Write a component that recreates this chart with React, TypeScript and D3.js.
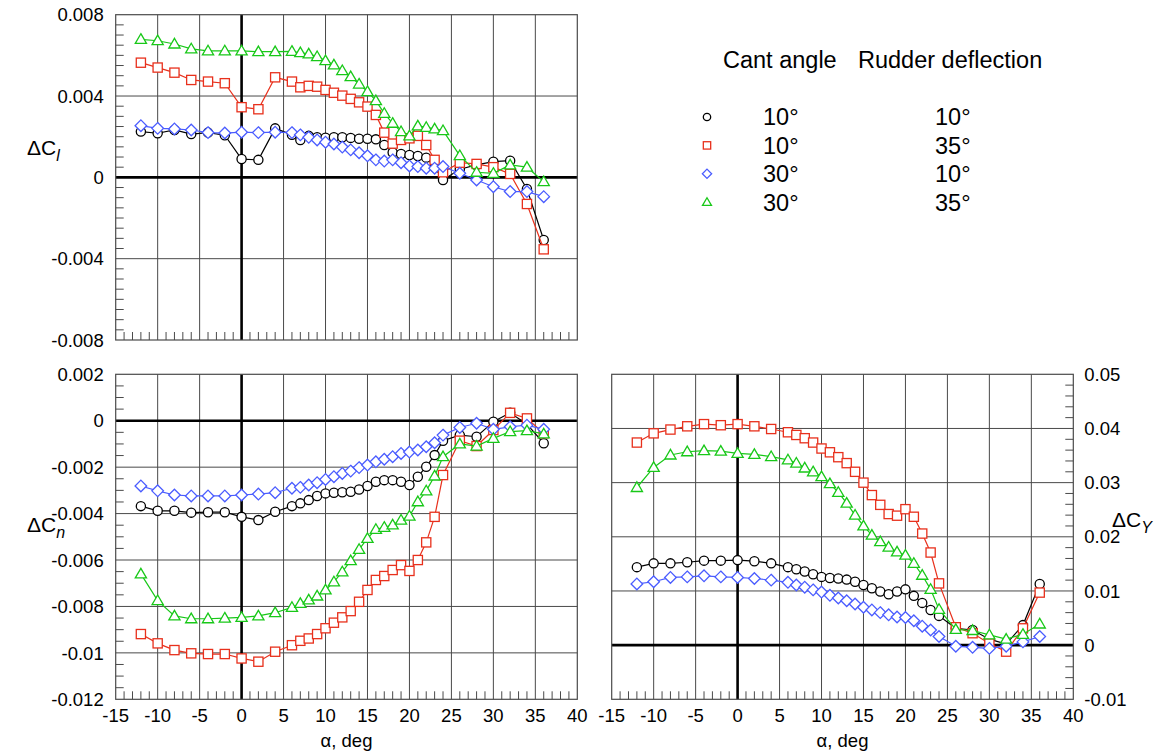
import React from 'react';
import * as d3 from 'd3';

// angle of attack, deg
const alpha = [-12, -10, -8, -6, -4, -2, 0, 2, 4, 6, 7, 8, 9, 10, 11, 12, 13, 14, 15, 16, 17, 18, 19, 20, 21, 22, 23, 24, 26, 28, 30, 32, 34, 36];

// ΔCl (x 1000)
const clC10R10 = [2.25, 2.17, 2.33, 2.13, 2.2, 2.07, 0.9, 0.86, 2.41, 2.09, 1.84, 2.04, 1.97, 1.95, 1.97, 1.97, 1.94, 1.9, 1.9, 1.87, 1.59, 1.22, 1.15, 1.1, 1.05, 0.97, 0.5, -0.13, 0.4, 0.61, 0.77, 0.82, -0.57, -3.08];
const clC10R35 = [5.64, 5.4, 5.15, 4.79, 4.71, 4.63, 3.45, 3.35, 4.92, 4.71, 4.43, 4.5, 4.46, 4.3, 4.16, 4.02, 3.86, 3.69, 3.48, 3.07, 2.2, 1.66, 1.84, 1.92, 2.04, 1.59, 0.86, 0.25, 0.72, 0.66, 0.5, 0.17, -1.31, -3.54];
const clC30R10 = [2.54, 2.41, 2.38, 2.33, 2.2, 2.18, 2.22, 2.2, 2.22, 2.2, 2.09, 1.97, 1.84, 1.73, 1.64, 1.49, 1.35, 1.21, 1.06, 0.86, 0.8, 0.86, 0.72, 0.56, 0.53, 0.45, 0.45, 0.53, 0.2, -0.13, -0.46, -0.7, -0.7, -0.95];
const clC30R35 = [6.79, 6.72, 6.56, 6.32, 6.22, 6.22, 6.22, 6.18, 6.18, 6.2, 6.13, 6.07, 5.94, 5.74, 5.53, 5.25, 4.95, 4.59, 4.22, 3.77, 3.15, 2.66, 2.25, 2.04, 2.53, 2.46, 2.38, 2.3, 1.07, 0.25, 0.2, 0.61, 0.5, -0.21];

// ΔCn (x 1000)
const cnC10R10 = [-3.68, -3.88, -3.88, -3.96, -3.94, -3.94, -4.14, -4.28, -3.92, -3.68, -3.56, -3.42, -3.24, -3.13, -3.1, -3.08, -3.06, -2.96, -2.81, -2.63, -2.56, -2.56, -2.63, -2.77, -2.41, -1.98, -1.48, -0.86, -0.62, -0.69, -0.04, 0.34, -0.15, -0.97];
const cnC10R35 = [-9.19, -9.59, -9.88, -10.02, -10.05, -10.05, -10.24, -10.38, -9.95, -9.67, -9.48, -9.38, -9.19, -8.94, -8.7, -8.47, -8.2, -7.8, -7.29, -6.86, -6.69, -6.43, -6.22, -6.47, -6.0, -5.24, -4.14, -2.34, -0.86, -1.09, -0.4, 0.34, 0.1, -0.54];
const cnC30R10 = [-2.81, -3.02, -3.2, -3.24, -3.24, -3.24, -3.2, -3.16, -3.1, -2.91, -2.87, -2.77, -2.67, -2.53, -2.41, -2.27, -2.17, -2.02, -1.91, -1.77, -1.66, -1.55, -1.41, -1.35, -1.26, -1.12, -0.95, -0.62, -0.29, -0.11, -0.37, -0.26, -0.19, -0.37];
const cnC30R35 = [-6.6, -7.75, -8.41, -8.53, -8.53, -8.5, -8.47, -8.41, -8.27, -8.04, -7.87, -7.72, -7.55, -7.29, -6.94, -6.51, -6.03, -5.54, -5.07, -4.68, -4.59, -4.49, -4.28, -4.11, -3.49, -3.02, -2.38, -1.55, -1.0, -1.09, -0.76, -0.47, -0.43, -0.57];

// ΔCY (x 1000)
const cyC10R10 = [14.4, 15.1, 15.1, 15.3, 15.6, 15.6, 15.7, 15.5, 15.1, 14.4, 14.0, 13.6, 13.1, 12.6, 12.4, 12.3, 12.1, 11.7, 11.1, 10.5, 9.9, 9.4, 9.9, 10.3, 9.1, 7.8, 6.5, 5.4, 3.1, 2.8, 1.1, 0.2, 3.7, 11.3];
const cyC10R35 = [37.4, 39.1, 39.8, 40.4, 40.8, 40.6, 40.8, 40.4, 39.9, 39.3, 38.8, 38.2, 37.4, 36.3, 35.6, 34.7, 33.6, 32.0, 30.0, 27.7, 25.9, 24.2, 23.9, 25.1, 23.7, 20.6, 17.1, 11.4, 3.3, 2.2, 0.3, -1.2, 3.1, 9.7];
const cyC30R10 = [11.3, 11.7, 12.5, 12.6, 12.8, 12.6, 12.5, 12.3, 12.0, 11.6, 11.1, 10.7, 10.2, 9.8, 9.2, 8.7, 8.2, 7.6, 7.0, 6.5, 6.0, 5.6, 5.2, 5.1, 4.5, 3.5, 2.8, 1.6, -0.2, -0.4, -0.6, -0.2, 0.6, 1.6];
const cyC30R35 = [29.1, 32.8, 35.1, 35.7, 35.9, 35.8, 35.4, 35.2, 34.8, 34.2, 33.6, 32.7, 32.0, 31.1, 29.8, 28.2, 26.2, 24.0, 22.0, 20.3, 19.1, 18.1, 17.2, 16.6, 15.1, 12.9, 10.3, 6.6, 2.9, 2.7, 1.9, 1.1, 2.0, 3.9];

const xTickLabels = ['-15', '-10', '-5', '0', '5', '10', '15', '20', '25', '30', '35', '40'];
const cantAngles = ['10°', '10°', '30°', '30°'];
const rudderDefl = ['10°', '35°', '10°', '35°'];

const seriesStyle = [
  { color: '#000000', shape: 'circle' },
  { color: '#e8301c', shape: 'square' },
  { color: '#4a5cff', shape: 'diamond' },
  { color: '#18c818', shape: 'triangle' },
];

const FONT = "'Liberation Sans', Arial, Helvetica, sans-serif";
const GRID = '#4a4a4a';

function Marker({ shape, x, y, color, s = 1 }: any) {
  const sw = 1.3;
  if (shape === 'circle') return <circle cx={x} cy={y} r={4.6 * s} fill="#fff" stroke={color} strokeWidth={sw} />;
  if (shape === 'square') {
    const h = 4.6 * s;
    return <rect x={x - h} y={y - h} width={2 * h} height={2 * h} fill="#fff" stroke={color} strokeWidth={sw} />;
  }
  if (shape === 'diamond') {
    const h = 5.8 * s;
    return <polygon points={`${x},${y - h} ${x + h},${y} ${x},${y + h} ${x - h},${y}`} fill="#fff" stroke={color} strokeWidth={sw} />;
  }
  const hw = 5.6 * s, up = 5.6 * s, dn = 4.0 * s;
  return <polygon points={`${x},${y - up} ${x + hw},${y + dn} ${x - hw},${y + dn}`} fill="#fff" stroke={color} strokeWidth={sw} />;
}

function fmt(v: number) {
  return String(+(v / 1000).toFixed(4));
}

function Panel({ left, right, top, bottom, yDomain, major, minor, series, side, showXLabels }: any) {
  const x = d3.scaleLinear().domain([-15, 40]).range([left, right]);
  const y = d3.scaleLinear().domain(yDomain).range([bottom, top]);
  const nMaj = Math.round((yDomain[1] - yDomain[0]) / major);
  const majTicks = d3.range(nMaj + 1).map((i) => +(yDomain[0] + i * major).toFixed(6));
  const nMin = Math.round((yDomain[1] - yDomain[0]) / minor);
  const minTicks = d3.range(nMin + 1).map((i) => +(yDomain[0] + i * minor).toFixed(6));
  const xMaj = d3.range(12).map((i) => -15 + i * 5);
  const xMin = d3.range(56).map((i) => -15 + i);
  const tl = 8;
  const line = d3.line<number>().x((_, i) => x(alpha[i])).y((d) => y(d));
  return (
    <g>
      {xMaj.filter((v) => v > -15 && v < 40 && v !== 0).map((v) => (
        <line key={'gx' + v} x1={x(v)} x2={x(v)} y1={top} y2={bottom} stroke={GRID} strokeWidth={1} />
      ))}
      {majTicks.filter((v) => v > yDomain[0] && v < yDomain[1] && v !== 0).map((v) => (
        <line key={'gy' + v} x1={left} x2={right} y1={y(v)} y2={y(v)} stroke={GRID} strokeWidth={1} />
      ))}
      {xMin.filter((v) => v % 5 !== 0).map((v) => (
        <line key={'mx' + v} x1={x(v)} x2={x(v)} y1={bottom} y2={bottom - tl} stroke={GRID} strokeWidth={1} />
      ))}
      {minTicks.filter((v) => !majTicks.includes(v)).map((v) => (
        side === 'left'
          ? <line key={'my' + v} x1={left} x2={left + tl} y1={y(v)} y2={y(v)} stroke={GRID} strokeWidth={1} />
          : <line key={'my' + v} x1={right} x2={right - tl} y1={y(v)} y2={y(v)} stroke={GRID} strokeWidth={1} />
      ))}
      <line x1={x(0)} x2={x(0)} y1={top} y2={bottom} stroke="#000" strokeWidth={2.6} />
      <line x1={left} x2={right} y1={y(0)} y2={y(0)} stroke="#000" strokeWidth={2.6} />
      <rect x={left} y={top} width={right - left} height={bottom - top} fill="none" stroke={GRID} strokeWidth={1.2} />
      {majTicks.map((v) => (
        <text key={'ly' + v} x={side === 'left' ? left - 12 : right + 11} y={y(v)} dy="0.36em"
          textAnchor={side === 'left' ? 'end' : 'start'} fontSize={18.5} fontFamily={FONT} fill="#000">{fmt(v)}</text>
      ))}
      {showXLabels && xMaj.map((v, i) => (
        <text key={'lx' + v} x={x(v)} y={bottom + 16} dy="0.36em" textAnchor="middle" fontSize={18.5} fontFamily={FONT} fill="#000">{xTickLabels[i]}</text>
      ))}
      {showXLabels && (
        <text x={(left + right) / 2} y={bottom + 41} dy="0.36em" textAnchor="middle" fontSize={18.5} fontFamily={FONT} fill="#000">α, deg</text>
      )}
      {series.map((vals: number[], si: number) => (
        <g key={'s' + si}>
          <path d={line(vals) || ''} fill="none" stroke={seriesStyle[si].color} strokeWidth={1.2} />
          {vals.map((v, i) => (
            <Marker key={i} shape={seriesStyle[si].shape} color={seriesStyle[si].color} x={x(alpha[i])} y={y(v)} />
          ))}
        </g>
      ))}
    </g>
  );
}

function YLabel({ x, y, sub, italic }: any) {
  return (
    <text x={x} y={y} fontSize={21} fontFamily={FONT} fill="#000">
      ΔC<tspan fontSize={16} dy={6} fontStyle={italic ? 'italic' : 'normal'}>{sub}</tspan>
    </text>
  );
}

export default function App() {
  return (
    <svg width={1173} height={753} style={{ position: 'absolute', left: 0, top: 0, background: '#fff' }}>
      <rect x={0} y={0} width={1173} height={753} fill="#fff" />
      <Panel left={115.7} right={577.3} top={14.7} bottom={340} yDomain={[-8, 8]} major={4} minor={0.5}
        series={[clC10R10, clC10R35, clC30R10, clC30R35]} side="left" showXLabels={false} />
      <Panel left={115.7} right={577.3} top={374.3} bottom={699.3} yDomain={[-12, 2]} major={2} minor={0.5}
        series={[cnC10R10, cnC10R35, cnC30R10, cnC30R35]} side="left" showXLabels={true} />
      <Panel left={611.7} right={1073.3} top={374.3} bottom={699.3} yDomain={[-10, 50]} major={10} minor={2}
        series={[cyC10R10, cyC10R35, cyC30R10, cyC30R35]} side="right" showXLabels={true} />
      <YLabel x={27} y={155} sub="l" italic />
      <YLabel x={27} y={532} sub="n" italic />
      <YLabel x={1112} y={527} sub="Y" italic />
      <text x={723} y={68} fontSize={23.5} fontFamily={FONT} fill="#000">Cant angle</text>
      <text x={858} y={68} fontSize={23.5} fontFamily={FONT} fill="#000">Rudder deflection</text>
      {seriesStyle.map((s, i) => {
        const cy = 117 + i * 28.4;
        return (
          <g key={'lg' + i}>
            <Marker shape={s.shape} color={s.color} x={707} y={cy} s={0.8} />
            <text x={763} y={cy} dy="0.36em" fontSize={23.5} fontFamily={FONT} fill="#000">{cantAngles[i]}</text>
            <text x={935} y={cy} dy="0.36em" fontSize={23.5} fontFamily={FONT} fill="#000">{rudderDefl[i]}</text>
          </g>
        );
      })}
    </svg>
  );
}
